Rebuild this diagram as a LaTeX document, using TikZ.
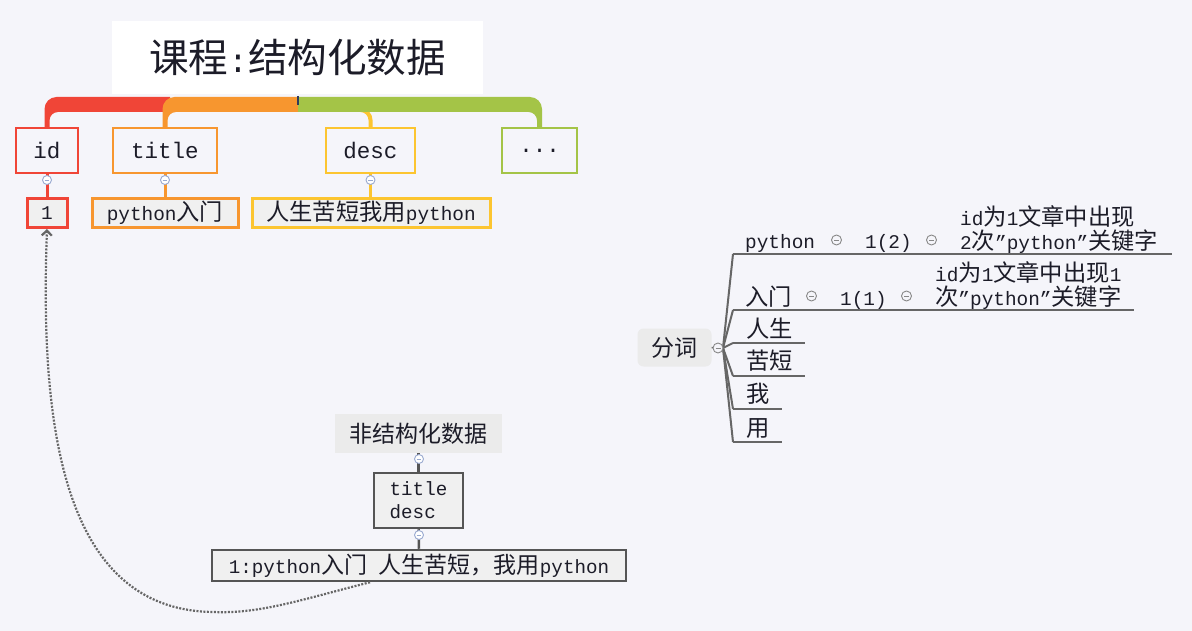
\documentclass[tikz,border=0pt]{standalone}
\usepackage{fontspec}
\setmainfont{Liberation Mono}
\newfontfamily\cjk[Scale=1.2]{Noto Sans CJK SC}
\newcommand\zh[1]{{\cjk #1}}
\usetikzlibrary{arrows.meta}
\definecolor{bg}{HTML}{F5F5FA}
\definecolor{redc}{HTML}{F04537}
\definecolor{orac}{HTML}{F7962F}
\definecolor{yelc}{HTML}{FCC530}
\definecolor{grnc}{HTML}{A4C447}
\definecolor{boxfill}{HTML}{F0F0F0}
\definecolor{grayfill}{HTML}{EBEBEB}
\definecolor{dk}{HTML}{555555}
\definecolor{txt}{HTML}{1C1C28}
\definecolor{mkc}{HTML}{9AAAD0}
\definecolor{lnc}{HTML}{666666}
\definecolor{gmc}{HTML}{888888}
\definecolor{tickc}{HTML}{2E3A5C}
\newcommand\bluemark[2]{\fill[white] (#1,#2) circle[radius=4.5];\draw[mkc,line width=0.9pt] (#1,#2) circle[radius=4.5];\draw[mkc,line width=0.9pt] (#1-2.3,#2) -- (#1+2.3,#2);}
\newcommand\graymark[2]{\fill[bg] (#1,#2) circle[radius=5];\draw[gmc,line width=0.9pt] (#1,#2) circle[radius=5];\draw[gmc,line width=0.9pt] (#1-2.5,#2) -- (#1+2.5,#2);}
\tikzset{
  lvlone/.style={draw, line width=2pt, minimum height=45, inner sep=0, text=txt, font=\fontsize{22.5}{27}\selectfont},
  lvltwo/.style={draw, line width=3pt, fill=boxfill, minimum height=29, inner sep=0, text=txt, font=\fontsize{19.4}{23}\selectfont},
  rt/.style={inner sep=0, text=txt, anchor=base west, font=\fontsize{19.4}{23}\selectfont},
  graybox/.style={fill=grayfill, inner sep=0, text=txt, font=\fontsize{19.2}{23}\selectfont},
  darkbox/.style={draw=dk, line width=2.5pt, fill=boxfill, inner sep=0, text=txt, font=\fontsize{19.2}{23}\selectfont},
  fanline/.style={lnc, line width=2pt},
  uline/.style={lnc, line width=1.5pt},
  dotconn/.style={lnc, line width=2.2pt, dash pattern=on 2pt off 1.5pt, -{Straight Barb[length=5pt,width=10pt]}}
}
\begin{document}
\begin{tikzpicture}[x=1pt,y=-1pt]
\fill[bg] (0,0) rectangle (1192,631);
\useasboundingbox (0,0) rectangle (1192,631);

% title
\node[fill=white, minimum width=371, minimum height=73, inner sep=0, text=txt, font=\fontsize{33}{40}\selectfont] (tt) at (297.5,57.5) {\zh{课程}:\zh{结构化数据}};

% level-one boxes
\node[lvlone, draw=redc, minimum width=62] (id) at (47,150.5) {id};
\node[lvlone, draw=orac, minimum width=104] (ti) at (165,150.5) {title};
\node[lvlone, draw=yelc, minimum width=89] (de) at (370.5,150.5) {desc};
\node[lvlone, draw=grnc, minimum width=75] (dots) at (539.5,150.5) {...};

% brace band
\draw[yelc, line width=4pt] (350,110) -- (360.5,110) .. controls (366,110) and (370.5,114.5) .. (370.5,120) -- (de.north);
\fill[redc] (44.5,128) -- (44.5,109) .. controls (44.5,102.4) and (49.9,97) .. (56.5,97) -- (170,97) -- (170,112) -- (58,112) .. controls (53.3,112) and (49.5,115.8) .. (49.5,120.5) -- (49.5,128) -- cycle;
\fill[orac] (162.5,128) -- (162.5,109) .. controls (162.5,102.4) and (167.9,97) .. (174.5,97) -- (298,97) -- (298,112) -- (176,112) .. controls (171.3,112) and (167.5,115.8) .. (167.5,120.5) -- (167.5,128) -- cycle;
\fill[grnc] (298,97) -- (530,97) .. controls (536.6,97) and (542,102.4) .. (542,109) -- (542,128) -- (537,128) -- (537,120.5) .. controls (537,115.8) and (533.2,112) .. (528.5,112) -- (298,112) -- cycle;
\draw[tickc, line width=2pt] (298,96) -- (298,105);

% level-two boxes
\node[lvltwo, draw=redc, minimum width=40] (one) at (47,213) {1};
\node[lvltwo, draw=orac, minimum width=146] (pyr) at (165,213) {python\zh{入门}};
\node[lvltwo, draw=yelc, minimum width=238] (rs) at (371,213) {\zh{人生苦短我用}python};

\draw[redc, line width=3pt] (id.south) -- (one.north);
\draw[orac, line width=3pt] (ti.south) -- (pyr.north);
\draw[yelc, line width=3pt] (de.south) -- (de.south |- rs.north);
\bluemark{47}{180}
\bluemark{165}{180}
\bluemark{370.5}{180}

% unstructured part
\node[graybox, minimum width=167, minimum height=39] (us) at (418.5,433.5) {\zh{非结构化数据}};
\node[darkbox, minimum width=89, minimum height=55, align=left] (td) at (418.5,500.5) {title\\desc};
\node[darkbox, minimum width=414, minimum height=31] (bot) at (419,565.5) {1:python\zh{入门} \zh{人生苦短，我用}python};
\draw[dk, line width=2.5pt] (us.south) -- (td.north);
\draw[dk, line width=2.5pt] (td.south) -- (bot.north);
\bluemark{419}{459}
\bluemark{419}{535}

% dotted link
\coordinate (cb) at (213,612);
\draw[dotconn] ([xshift=-49pt]bot.south) .. controls (300,600) and (260,614) .. (cb) .. controls (60,610) and (40,420) .. (one.south);

% segmentation tree
\node[graybox, rounded corners=6pt, minimum width=74, minimum height=38] (fc) at (674.5,347.5) {\zh{分词}};
\coordinate (hub) at (723,348);
\coordinate (b1) at (733,254); \coordinate (e1) at (1172,254);
\coordinate (b2) at (733,310); \coordinate (e2) at (1134,310);
\coordinate (b3) at (733,343); \coordinate (e3) at (805,343);
\coordinate (b4) at (733,376); \coordinate (e4) at (805,376);
\coordinate (b5) at (733,409); \coordinate (e5) at (782,409);
\coordinate (b6) at (733,442); \coordinate (e6) at (782,442);
\foreach \i in {1,...,6} {
  \draw[fanline] (hub) -- (b\i);
  \draw[uline] (b\i) -- (e\i);
}
\draw[lnc, line width=1.5pt] (fc.east) -- (hub);
\graymark{718}{348}

\node[rt] (w1) at (745,249) {python};
\graymark{836.5}{240}
\node[rt] (n1) at (865,249) {1(2)};
\graymark{931.5}{240}
\node[rt] (d1a) at (960,226) {id\zh{为}1\zh{文章中出现}};
\node[rt] (d1b) at (960,249.6) {2\zh{次}"python"\zh{关键字}};

\node[rt] (w2) at (745,305.6) {\zh{入门}};
\graymark{811.5}{296}
\node[rt] (n2) at (840,305.6) {1(1)};
\graymark{906.5}{296}
\node[rt] (d2a) at (935,281.6) {id\zh{为}1\zh{文章中出现}1};
\node[rt] (d2b) at (935,305.6) {\zh{次}"python"\zh{关键字}};

\node[rt] (w3) at (746,337) {\zh{人生}};
\node[rt] (w4) at (746,369) {\zh{苦短}};
\node[rt] (w5) at (746,402) {\zh{我}};
\node[rt] (w6) at (746,436) {\zh{用}};
\end{tikzpicture}
\end{document}
